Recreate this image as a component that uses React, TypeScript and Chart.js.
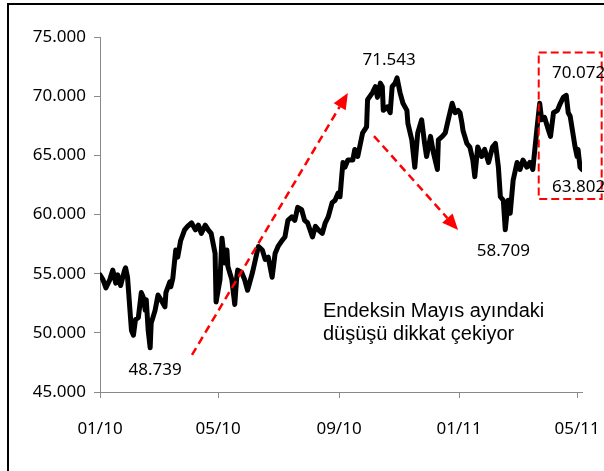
import React, { useEffect, useRef } from "react";
import { Chart, registerables } from "chart.js";
Chart.register(...registerables);

// Days since the first date on the axis (Jan 2010)
const tickDays = [0, 120, 243, 365, 485];
const tickLabels = ["01/10", "05/10", "09/10", "01/11", "05/11"];

const days = [
  0, 3, 6, 10, 13, 16, 18, 21, 25, 26, 28, 31, 32, 34, 36, 39, 42, 44, 46, 47,
  49, 51, 52, 56, 59, 62, 66, 67, 71, 72, 74, 77, 79, 82, 86, 89, 93, 97, 100, 103,
  107, 110, 113, 117, 118, 122, 124, 125, 127, 129, 130, 134, 137, 139, 140, 144, 147, 150, 155, 158,
  161, 165, 168, 171, 175, 178, 181, 185, 188, 191, 195, 198, 201, 205, 208, 211, 216, 219, 222, 226,
  229, 232, 236, 239, 242, 244, 246, 247, 249, 252, 257, 259, 262, 264, 267, 271, 272, 277, 280, 282,
  285, 287, 288, 292, 295, 297, 300, 302, 305, 308, 312, 313, 317, 320, 323, 327, 330, 332, 336, 339,
  343, 344, 348, 351, 354, 358, 361, 364, 366, 368, 369, 373, 376, 379, 381, 384, 388, 391, 395, 399,
  402, 405, 407, 410, 412, 415, 417, 420, 424, 427, 430, 434, 437, 440, 444, 447, 449, 452, 456, 458,
  461, 465, 468, 471, 474, 476, 478, 483, 485, 486, 488, 490,
];

const values = [
  54900, 54500, 53800, 54500, 55300, 54200, 54900, 54000, 55300, 55500, 54700, 51300, 50200, 49800, 51100, 51300, 53400, 53000, 51900, 52800,
  50200, 48739, 50800, 51900, 53200, 52800, 52200, 53400, 54300, 53900, 54600, 57000, 56400, 57800, 58700, 59000, 59300, 58700, 59100, 58400,
  59100, 58700, 58400, 56700, 52600, 54500, 58000, 57300, 55900, 57000, 55600, 54500, 52400, 54700, 55300, 55100, 54500, 53600, 55100, 56200,
  57300, 57000, 56200, 56400, 54700, 56700, 57300, 57800, 58100, 59500, 59800, 59500, 60600, 60400, 59500, 59300, 58100, 59000, 58700, 58400,
  59300, 59800, 61000, 61200, 61800, 61500, 63500, 64400, 64000, 64600, 64600, 65500, 64900, 65700, 66900, 67400, 69700, 70300, 70800, 69900,
  71100, 70800, 68800, 69100, 68600, 70800, 71100, 71543, 70300, 69400, 68800, 67700, 66300, 64000, 66900, 68000, 66000, 64900, 66600, 65200,
  63800, 66300, 66600, 66900, 68000, 69400, 68600, 68800, 68600, 67700, 67100, 66000, 65700, 64600, 63200, 65700, 64900, 65500, 64400, 65700,
  66000, 64000, 61500, 61200, 58709, 61200, 60100, 62900, 64400, 63800, 64600, 64000, 64400, 63800, 67100, 69400, 68000, 68200, 67100, 66600,
  68600, 68800, 69400, 69900, 70072, 68600, 68300, 65700, 64900, 65500, 64000, 63802,
];

const yMin = 45000;
const yMax = 75000;
const yStep = 5000;
const xMax = 490;

const fmt = (v: number) => String(Math.round(v)).replace(/\B(?=(\d{3})+(?!\d))/g, ".");

// annotation texts (value labels), anchored in data coordinates
const labelTexts = ["71.543", "48.739", "58.709", "70.072", "63.802"];
const labelDays = [294, 56, 410, 459.5, 459.5];
const labelVals = [73050, 46860, 56870, 71920, 62280];
const labelAlign = ["center", "center", "center", "left", "left"];

const noteLines = ["Endeksin Mayıs ayındaki", "düşüşü dikkat çekiyor"];

const overlay = {
  id: "overlay",
  afterDraw(chart: any) {
    const { ctx } = chart;
    const xs = chart.scales.x;
    const ys = chart.scales.y;
    const px = (d: number) => xs.getPixelForValue(d);
    const py = (v: number) => ys.getPixelForValue(v);
    ctx.save();

    // outer frame
    ctx.setLineDash([]);
    ctx.strokeStyle = "#000";
    ctx.lineWidth = 2;
    ctx.strokeRect(8, 4, 900, 900);

    const red = "#ff0000";
    const arrow = (d0: number, v0: number, d1: number, v1: number) => {
      const x0 = px(d0), y0 = py(v0), x1 = px(d1), y1 = py(v1);
      const ang = Math.atan2(y1 - y0, x1 - x0);
      const hl = 16, hw = 7;
      const bx = x1 - hl * Math.cos(ang), by = y1 - hl * Math.sin(ang);
      ctx.strokeStyle = red;
      ctx.lineWidth = 2.5;
      ctx.setLineDash([8, 5]);
      ctx.beginPath();
      ctx.moveTo(x0, y0);
      ctx.lineTo(bx, by);
      ctx.stroke();
      ctx.setLineDash([]);
      ctx.fillStyle = red;
      ctx.beginPath();
      ctx.moveTo(x1, y1);
      ctx.lineTo(bx + hw * Math.sin(ang), by - hw * Math.cos(ang));
      ctx.lineTo(bx - hw * Math.sin(ang), by + hw * Math.cos(ang));
      ctx.closePath();
      ctx.fill();
    };
    arrow(93.5, 48130, 252, 70270);
    arrow(278.5, 66630, 364, 58690);

    // dashed box
    ctx.strokeStyle = red;
    ctx.lineWidth = 2;
    ctx.setLineDash([8, 4]);
    const rx0 = px(446), rx1 = px(510), ry0 = py(73700), ry1 = py(61310);
    ctx.strokeRect(rx0, ry0, rx1 - rx0, ry1 - ry0);
    ctx.setLineDash([]);

    // value labels
    ctx.fillStyle = "#000";
    ctx.font = "17px 'Noto Sans'";
    ctx.textBaseline = "middle";
    labelTexts.forEach((t, i) => {
      ctx.textAlign = labelAlign[i] as CanvasTextAlign;
      ctx.fillText(t, px(labelDays[i]), py(labelVals[i]));
    });

    // note
    ctx.font = "20px 'Liberation Sans'";
    ctx.textAlign = "left";
    ctx.textBaseline = "alphabetic";
    ctx.fillText(noteLines[0], px(226.7), py(51340));
    ctx.fillText(noteLines[1], px(226.7), py(49390));

    ctx.restore();
  },
};

export default function App() {
  const ref = useRef<HTMLCanvasElement | null>(null);
  useEffect(() => {
    if (!ref.current) return;
    const pts = days.map((d, i) => ({ x: d, y: values[i] }));
    const axisColor = "#898989";
    const tickFont = { family: "'Noto Sans'", size: 17 };
    const chart = new Chart(ref.current, {
      type: "line",
      data: {
        datasets: [
          {
            data: pts,
            borderColor: "#000",
            borderWidth: 5,
            pointRadius: 0,
            tension: 0,
            borderJoinStyle: "round",
            borderCapStyle: "round",
            fill: false,
          },
        ],
      },
      options: {
        animation: false,
        responsive: false,
        devicePixelRatio: 1,
        layout: { padding: { left: 0, top: 37, right: 22, bottom: 0 } },
        plugins: { legend: { display: false }, tooltip: { enabled: false } },
        scales: {
          x: {
            type: "linear",
            min: 0,
            max: xMax,
            afterBuildTicks: (s: any) => {
              s.ticks = tickDays.map((v) => ({ value: v }));
            },
            afterFit: (s: any) => {
              s.height = 79;
              s.paddingLeft = 0;
              s.paddingRight = 0;
            },
            ticks: {
              callback: (v: any) => tickLabels[tickDays.indexOf(Number(v))] ?? "",
              font: tickFont,
              color: "#000",
              padding: 21,
              maxRotation: 0,
              autoSkip: false,
            },
            grid: { drawOnChartArea: false, tickLength: 6, color: axisColor },
            border: { color: axisColor, width: 1 },
          },
          y: {
            min: yMin,
            max: yMax,
            afterFit: (s: any) => {
              s.width = 100;
              s.paddingTop = 0;
              s.paddingBottom = 0;
            },
            ticks: {
              stepSize: yStep,
              callback: (v: any) => fmt(Number(v)),
              font: tickFont,
              color: "#000",
              padding: 8,
            },
            grid: { drawOnChartArea: false, tickLength: 6, color: axisColor },
            border: { color: axisColor, width: 1 },
          },
        },
      },
      plugins: [overlay],
    } as any);
    return () => chart.destroy();
  }, []);
  return (
    <div style={{ position: "fixed", left: 0, top: 0, width: 604, height: 471, background: "#fff" }}>
      <canvas ref={ref} width={604} height={471} style={{ display: "block" }} />
    </div>
  );
}
